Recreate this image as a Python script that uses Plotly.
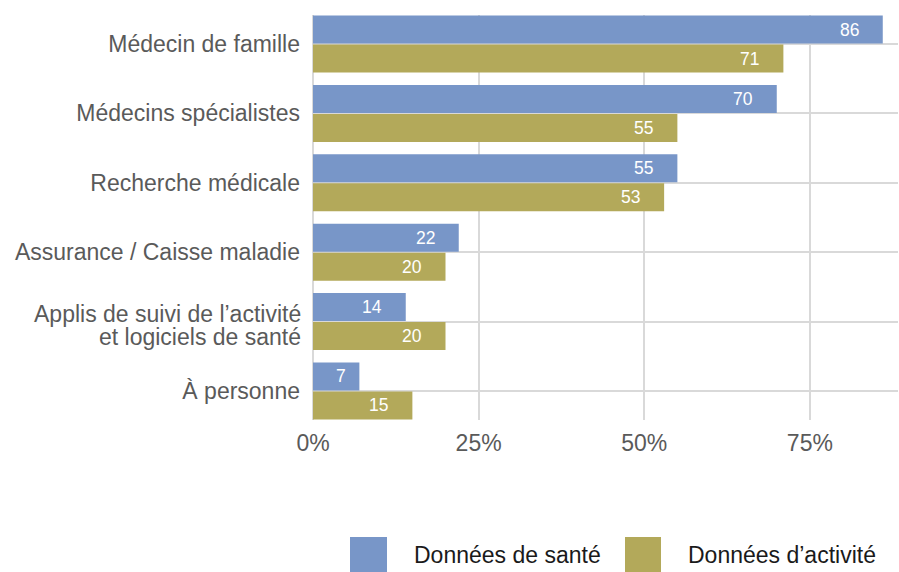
import plotly.graph_objects as go

categories = [
    "Médecin de famille",
    "Médecins spécialistes",
    "Recherche médicale",
    "Assurance / Caisse maladie",
    "Applis de suivi de l’activité<br>et logiciels de santé",
    "À personne",
]
sante = [86, 70, 55, 22, 14, 7]
activite = [71, 55, 53, 20, 20, 15]
series_names = ["Données de santé", "Données d’activité"]
series_colors = ["#7896C8", "#B3A95A"]
x_tickvals = [0, 25, 50, 75]
x_ticktext = ["0%", "25%", "50%", "75%"]

W, H = 899, 572
L, R, T, B = 313, 1, 15, 152
XMAX = 88.3
FONT = "Liberation Sans, Arial, sans-serif"
LABEL_COLOR = "#5a5a5a"

fig = go.Figure()
for name, vals, col in zip(series_names, [sante, activite], series_colors):
    fig.add_trace(go.Bar(
        y=categories, x=vals, orientation="h", name=name,
        marker=dict(color=col, line=dict(width=0)),
        showlegend=False, hoverinfo="x+y",
    ))

plot_w = W - L - R
px_per_unit = plot_w / XMAX
bargap = 0.163
bargroupgap = 0.035
slot = (1 - bargap) / 2
offsets = [-slot / 2, slot / 2]

for si, vals in enumerate([sante, activite]):
    for i, v in enumerate(vals):
        pad = min(22, 0.25 * v * px_per_unit)
        fig.add_annotation(
            x=v, y=i + offsets[si], xref="x", yref="y",
            text=str(v), showarrow=False, xanchor="right", yanchor="middle",
            xshift=-pad, font=dict(family=FONT, size=17.5, color="white"),
        )

# multi-line category labels drawn with tighter line spacing
ticktext = []
for i, c in enumerate(categories):
    if "<br>" in c:
        ticktext.append("")
        lines = c.split("<br>")
        for li, line in enumerate(lines):
            fig.add_annotation(
                xref="paper", yref="y", x=0, y=i, text=line, showarrow=False,
                xanchor="right", yanchor="middle", xshift=-11,
                yshift=8 - 23 * li, borderpad=0,
                font=dict(family=FONT, size=23, color=LABEL_COLOR),
            )
    else:
        ticktext.append(c)

# legend drawn manually (large squares)
plot_h = H - T - B
def px2paper_x(px):
    return (px - L) / plot_w
def px2paper_y(py):
    return (H - B - py) / plot_h

leg_items = [(350, 387, 412), (625, 661, 686)]
for (x0, x1, tx), name, col in zip(leg_items, series_names, series_colors):
    fig.add_shape(type="rect", xref="paper", yref="paper",
                  x0=px2paper_x(x0), x1=px2paper_x(x1),
                  y0=px2paper_y(572), y1=px2paper_y(537),
                  fillcolor=col, line=dict(width=0))
    fig.add_annotation(xref="paper", yref="paper", x=px2paper_x(tx), y=px2paper_y(555),
                       text=name, showarrow=False, xanchor="left", yanchor="middle",
                       font=dict(family=FONT, size=23, color="#1a1a1a"))

n = len(categories)
fig.update_layout(
    width=W, height=H,
    margin=dict(l=L, r=R, t=T, b=B, pad=0),
    paper_bgcolor="white", plot_bgcolor="white",
    barmode="group", bargap=bargap, bargroupgap=bargroupgap,
    font=dict(family=FONT),
    xaxis=dict(range=[0, XMAX], tickvals=x_tickvals, ticktext=x_ticktext,
               showgrid=True, gridcolor="#d9d9d9", gridwidth=1.5,
               zeroline=True, zerolinecolor="#d9d9d9", zerolinewidth=1.5,
               showline=False, ticks="", ticklabelstandoff=7, automargin=False,
               tickfont=dict(family=FONT, size=23, color=LABEL_COLOR)),
    yaxis=dict(range=[n - 0.5 - bargap / 2, -0.5 + bargap / 2],
               tickvals=categories, ticktext=ticktext,
               showgrid=True, gridcolor="#d9d9d9", gridwidth=1.5,
               showline=False, ticks="", ticklabelstandoff=12, automargin=False,
               tickfont=dict(family=FONT, size=23, color=LABEL_COLOR)),
)

fig.write_html("out.html", config={"displayModeBar": False},
               post_script="document.body.style.margin='0';document.body.style.overflow='hidden';")
